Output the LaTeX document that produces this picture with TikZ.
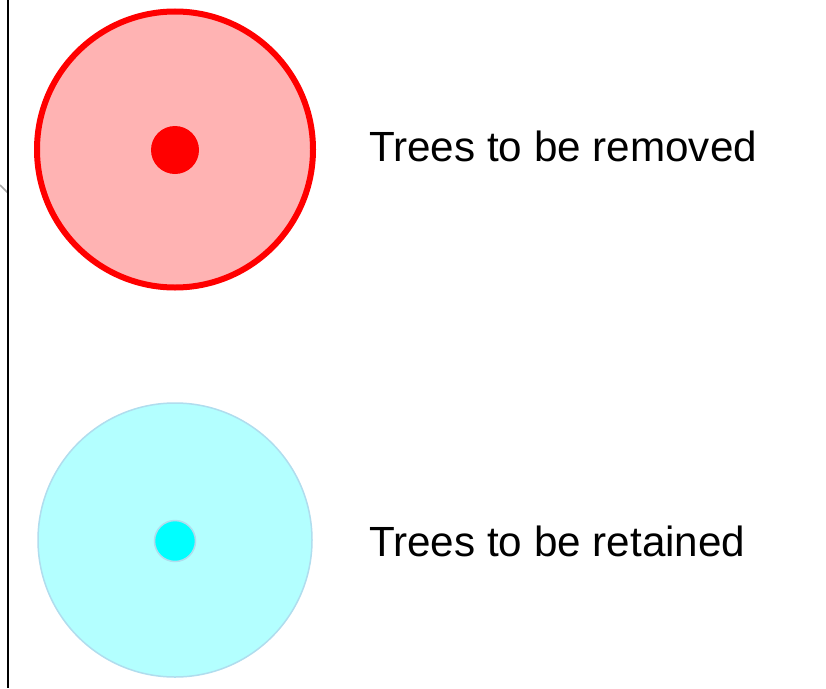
\documentclass[tikz,border=0pt]{standalone}
\usepackage{fontspec}
\setmainfont{Liberation Sans}
\definecolor{pinkfill}{HTML}{FFB3B3}
\definecolor{cyanfill}{HTML}{B3FFFF}
\definecolor{cyanedge}{HTML}{B0DDEE}
\definecolor{puredot}{HTML}{00FFFF}
\definecolor{puredred}{HTML}{FF0000}
\begin{document}
\begin{tikzpicture}[x=1pt,y=-1pt,
  lbl/.style={anchor=west,inner sep=0pt,font=\fontsize{42.2}{48}\selectfont}]
\useasboundingbox (0,0) rectangle (826,688);
\fill[white] (0,0) rectangle (826,688);
\draw[gray!70,line width=1.5pt] (0,185) -- (8,193);
\draw[black,line width=2.2pt] (8,0) -- (8,688);
% removed
\node[circle,draw=puredred,line width=6pt,fill=pinkfill,minimum size=276pt,inner sep=0pt] (c1) at (175,149.5) {};
\node[circle,fill=puredred,minimum size=48pt,inner sep=0pt] (d1) at (175,150) {};
\node[lbl] (t1) at (369,146) {Trees to be removed};
% retained
\node[circle,draw=cyanedge,line width=1.5pt,fill=cyanfill,minimum size=274pt,inner sep=0pt] (c2) at (175,540) {};
\node[circle,draw=cyanedge,line width=1.5pt,fill=puredot,minimum size=41pt,inner sep=0pt] (d2) at (175,541) {};
\node[lbl] (t2) at (369,541) {Trees to be retained};
\end{tikzpicture}
\end{document}
